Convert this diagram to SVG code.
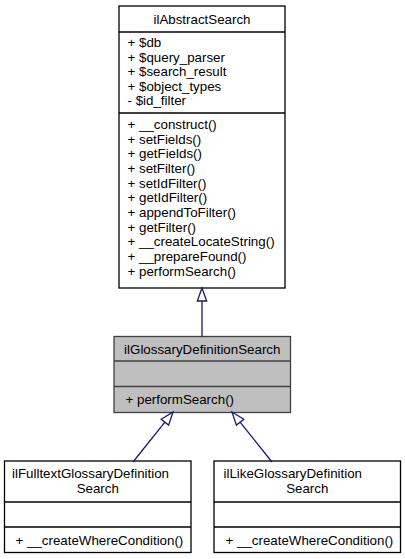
<svg xmlns="http://www.w3.org/2000/svg" width="405" height="559" viewBox="0 0 405 559">
<style>
text{font-family:"Liberation Sans",Arial,Helvetica,sans-serif;font-size:13.33px;fill:#000}
.m{text-anchor:middle}
.box{fill:#fff;stroke:#000;stroke-width:1.3}
.cur{fill:#bfbfbf;stroke:#404040;stroke-width:1.3}
.sep{stroke:#000;stroke-width:1.3}
.sepc{stroke:#404040;stroke-width:1.3}
.edge{stroke:#191970;stroke-width:1.3;fill:none}
.ah{fill:#fff;stroke:#191970;stroke-width:1.3}
</style>
<rect width="405" height="559" fill="#fff"/>
<g id="ilAbstractSearch">
<rect class="box" x="119" y="6" width="166" height="282"/>
<line class="sep" x1="119" y1="32" x2="285" y2="32"/>
<line class="sep" x1="119" y1="113" x2="285" y2="113"/>
<text class="m" x="202" y="23.5">ilAbstractSearch</text>
<text x="127.5" y="47">+ $db</text>
<text x="127.5" y="61.5">+ $query_parser</text>
<text x="127.5" y="76">+ $search_result</text>
<text x="127.5" y="90.5">+ $object_types</text>
<text x="127.5" y="105">- $id_filter</text>
<text x="127.5" y="129">+ __construct()</text>
<text x="127.5" y="143.7">+ setFields()</text>
<text x="127.5" y="158.3">+ getFields()</text>
<text x="127.5" y="173">+ setFilter()</text>
<text x="127.5" y="187.7">+ setIdFilter()</text>
<text x="127.5" y="202.3">+ getIdFilter()</text>
<text x="127.5" y="217">+ appendToFilter()</text>
<text x="127.5" y="231.7">+ getFilter()</text>
<text x="127.5" y="246.3">+ __createLocateString()</text>
<text x="127.5" y="261">+ __prepareFound()</text>
<text x="127.5" y="275.7">+ performSearch()</text>
</g>
<g id="ilGlossaryDefinitionSearch">
<rect class="cur" x="114" y="336.5" width="176.5" height="76"/>
<line class="sepc" x1="114" y1="361" x2="290.5" y2="361"/>
<line class="sepc" x1="114" y1="386.5" x2="290.5" y2="386.5"/>
<text class="m" x="202.25" y="353.5">ilGlossaryDefinitionSearch</text>
<text x="125.5" y="404">+ performSearch()</text>
</g>
<g id="ilFulltextGlossaryDefinitionSearch">
<rect class="box" x="4.5" y="461" width="186.5" height="91.5"/>
<line class="sep" x1="4.5" y1="502" x2="191" y2="502"/>
<line class="sep" x1="4.5" y1="527" x2="191" y2="527"/>
<text x="12" y="478">ilFulltextGlossaryDefinition</text>
<text class="m" x="97.75" y="492.5">Search</text>
<text x="15.5" y="544.5">+ __createWhereCondition()</text>
</g>
<g id="ilLikeGlossaryDefinitionSearch">
<rect class="box" x="214" y="461" width="186.5" height="91.5"/>
<line class="sep" x1="214" y1="502" x2="400.5" y2="502"/>
<line class="sep" x1="214" y1="527" x2="400.5" y2="527"/>
<text x="223.5" y="478">ilLikeGlossaryDefinition</text>
<text class="m" x="307.25" y="492.5">Search</text>
<text x="225.5" y="544.5">+ __createWhereCondition()</text>
</g>
<g id="connectors">
<line class="edge" x1="202" y1="301" x2="202" y2="336.5"/>
<polygon class="ah" points="202,288 197.3,301 206.7,301"/>
<line class="edge" x1="133" y1="462" x2="164.9" y2="422.2"/>
<polygon class="ah" points="173,412 168.6,425.1 161.2,419.3"/>
<line class="edge" x1="272" y1="462" x2="240.1" y2="422.2"/>
<polygon class="ah" points="232,412 243.8,419.3 236.4,425.1"/>
</g>
</svg>
